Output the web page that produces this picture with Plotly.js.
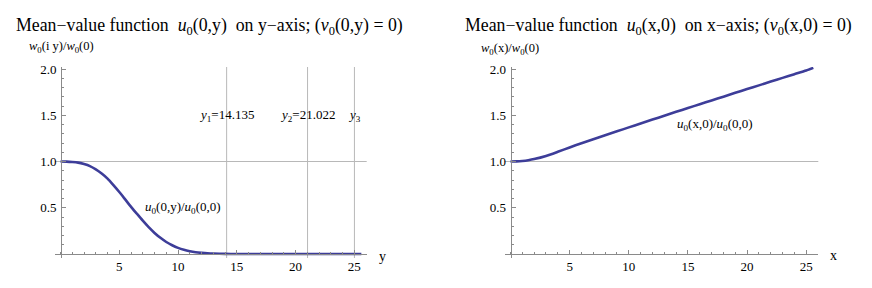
<!DOCTYPE html>
<html>
<head>
<meta charset="utf-8">
<script src="https://cdn.plot.ly/plotly-3.0.1.min.js"></script>
<style>html,body{margin:0;padding:0;background:#fff}#chart{width:872px;height:288px}</style>
</head>
<body>
<div id="chart"></div>
<script>
// ---- data ----
const leftX = [0,0.5,1,1.5,2,2.5,3,3.5,4,4.5,5,5.5,6,6.5,7,7.5,8,8.5,9,9.5,10,10.5,11,11.5,12,12.5,13,14,15,16,18,20,22,24,25.6];
const leftY = [1,0.999,0.995,0.988,0.972,0.95,0.915,0.87,0.815,0.745,0.67,0.59,0.51,0.435,0.36,0.29,0.228,0.175,0.13,0.095,0.066,0.045,0.03,0.019,0.012,0.007,0.004,0.001,0.0003,0,0,0,0,0,0];
const rightX = [0,0.5,1,1.5,2,3,4,5,6,7,8,9,10,11,12,13,14,15,16,17,18,19,20,21,22,23,24,25,25.6];
const rightY = [1,1.0015,1.006,1.014,1.026,1.06,1.105,1.152,1.197,1.24,1.283,1.326,1.369,1.411,1.453,1.495,1.537,1.578,1.619,1.66,1.701,1.742,1.783,1.823,1.864,1.904,1.944,1.984,2.012];
const zeroNames = ['<i>y</i><sub>1</sub>=14.135','<i>y</i><sub>2</sub>=21.022','<i>y</i><sub>3</sub>'];
const zeros = [14.135, 21.022, 25.011];
const zeroLabelLevel = 1.5;
const refLevel = 1.0;
const xTicks = [5,10,15,20,25];
const yTicks = [0.5,1.0,1.5,2.0];
const yTickText = ['0.5','1.0','1.5','2.0'];

// ---- styling ----
const FONT = 'Liberation Serif, Times New Roman, Times, serif';
const curveColor = '#3d3d99';
const axisColor = '#8a8a8a';
const gridColor = '#b8b8b8';

const W = 872, H = 288;
const px = v => v / W;
const py = v => 1 - v / H;

function xAxis(dom, rng) {
  return {
    domain: dom, range: rng, anchor: 'free', position: py(254),
    showline: true, linecolor: axisColor, linewidth: 1,
    tickmode: 'array', tickvals: xTicks, ticktext: xTicks.map(String),
    ticks: 'inside', ticklen: 4, tickwidth: 1, tickcolor: axisColor,
    minor: {tickmode: 'linear', tick0: 0, dtick: 1, ticks: 'inside', ticklen: 2, tickwidth: 1, tickcolor: axisColor, showgrid: false},
    showgrid: false, zeroline: false, automargin: false, fixedrange: true,
    tickfont: {family: FONT, size: 13, color: '#000'}
  };
}
function yAxis(dom, rng, pos) {
  return {
    domain: dom, range: rng, anchor: 'free', position: pos,
    showline: true, linecolor: axisColor, linewidth: 1,
    tickmode: 'array', tickvals: yTicks, ticktext: yTickText,
    ticks: 'inside', ticklen: 4, tickwidth: 1, tickcolor: axisColor,
    ticklabelstandoff: 2,
    minor: {tickmode: 'linear', tick0: 0, dtick: 0.1, ticks: 'inside', ticklen: 2, tickwidth: 1, tickcolor: axisColor, showgrid: false},
    showgrid: false, zeroline: false, automargin: false, fixedrange: true,
    tickfont: {family: FONT, size: 13, color: '#000'}
  };
}

const yDom = [py(258), py(67)];
const yRng = [-0.0432, 2.0216];

const traces = [
  {x: leftX, y: leftY, xaxis: 'x', yaxis: 'y', mode: 'lines', line: {color: curveColor, width: 2.6, shape: 'spline', smoothing: 0.6}, hoverinfo: 'skip'},
  {x: rightX, y: rightY, xaxis: 'x2', yaxis: 'y2', mode: 'lines', line: {color: curveColor, width: 2.6, shape: 'spline', smoothing: 0.6}, hoverinfo: 'skip'}
];

const shapes = [];
zeros.forEach(z => shapes.push({type: 'line', xref: 'x', yref: 'y domain', x0: z, x1: z, y0: 0, y1: 1, line: {color: gridColor, width: 1}, layer: 'below'}));
shapes.push({type: 'line', xref: 'x domain', yref: 'y', x0: 0, x1: 1, y0: refLevel, y1: refLevel, line: {color: gridColor, width: 1}, layer: 'below'});
shapes.push({type: 'line', xref: 'x2 domain', yref: 'y2', x0: 0, x1: 1, y0: refLevel, y1: refLevel, line: {color: gridColor, width: 1}, layer: 'below'});

const annotations = [];
zeros.forEach((z, i) => annotations.push({xref: 'x', yref: 'y', x: z, y: zeroLabelLevel, text: zeroNames[i], showarrow: false, xanchor: 'center', yanchor: 'middle', font: {family: FONT, size: 13, color: '#000'}}));
annotations.push({xref: 'x', yref: 'y', x: 10.4, y: 0.5, text: '<i>u</i><sub>0</sub>(0,y)/<i>u</i><sub>0</sub>(0,0)', showarrow: false, font: {family: FONT, size: 13, color: '#000'}});
annotations.push({xref: 'x2', yref: 'y2', x: 17.3, y: 1.4, text: '<i>u</i><sub>0</sub>(x,0)/<i>u</i><sub>0</sub>(0,0)', showarrow: false, font: {family: FONT, size: 13, color: '#000'}});
annotations.push({xref: 'paper', yref: 'paper', x: px(14), y: py(26), xanchor: 'left', yanchor: 'middle', showarrow: false,
  text: 'Mean\u2212value function \u00a0<i>u</i><sub>0</sub>(0,y) \u00a0on y\u2212axis; (<i>v</i><sub>0</sub>(0,y) = 0)', font: {family: FONT, size: 17.8, color: '#000'}});
annotations.push({xref: 'paper', yref: 'paper', x: px(463), y: py(26), xanchor: 'left', yanchor: 'middle', showarrow: false,
  text: 'Mean\u2212value function \u00a0<i>u</i><sub>0</sub>(x,0) \u00a0on x\u2212axis; (<i>v</i><sub>0</sub>(x,0) = 0)', font: {family: FONT, size: 17.8, color: '#000'}});
annotations.push({xref: 'paper', yref: 'paper', x: px(61.5), y: py(47), xanchor: 'center', yanchor: 'middle', showarrow: false,
  text: '<i>w</i><sub>0</sub>(i y)/<i>w</i><sub>0</sub>(0)', font: {family: FONT, size: 12.5, color: '#000'}});
annotations.push({xref: 'paper', yref: 'paper', x: px(510), y: py(49), xanchor: 'center', yanchor: 'middle', showarrow: false,
  text: '<i>w</i><sub>0</sub>(x)/<i>w</i><sub>0</sub>(0)', font: {family: FONT, size: 12.5, color: '#000'}});
annotations.push({xref: 'paper', yref: 'paper', x: px(382), y: py(256), xanchor: 'center', yanchor: 'middle', showarrow: false,
  text: 'y', font: {family: FONT, size: 14, color: '#000'}});
annotations.push({xref: 'paper', yref: 'paper', x: px(833), y: py(255), xanchor: 'center', yanchor: 'middle', showarrow: false,
  text: 'x', font: {family: FONT, size: 14, color: '#000'}});

const layout = {
  width: W, height: H,
  font: {family: FONT, size: 13, color: '#000'},
  margin: {l: 0, r: 0, t: 0, b: 0, pad: 0},
  paper_bgcolor: '#fff', plot_bgcolor: 'rgba(0,0,0,0)',
  showlegend: false,
  xaxis: xAxis([px(55), px(366.7)], [-0.472, 26.055]),
  yaxis: yAxis(yDom, yRng, px(61)),
  xaxis2: xAxis([px(504.5), px(818.3)], [-0.507, 26.02]),
  yaxis2: yAxis(yDom, yRng, px(510.5)),
  shapes: shapes,
  annotations: annotations
};

Plotly.newPlot('chart', traces, layout, {displayModeBar: false, staticPlot: true});
</script>
</body>
</html>
